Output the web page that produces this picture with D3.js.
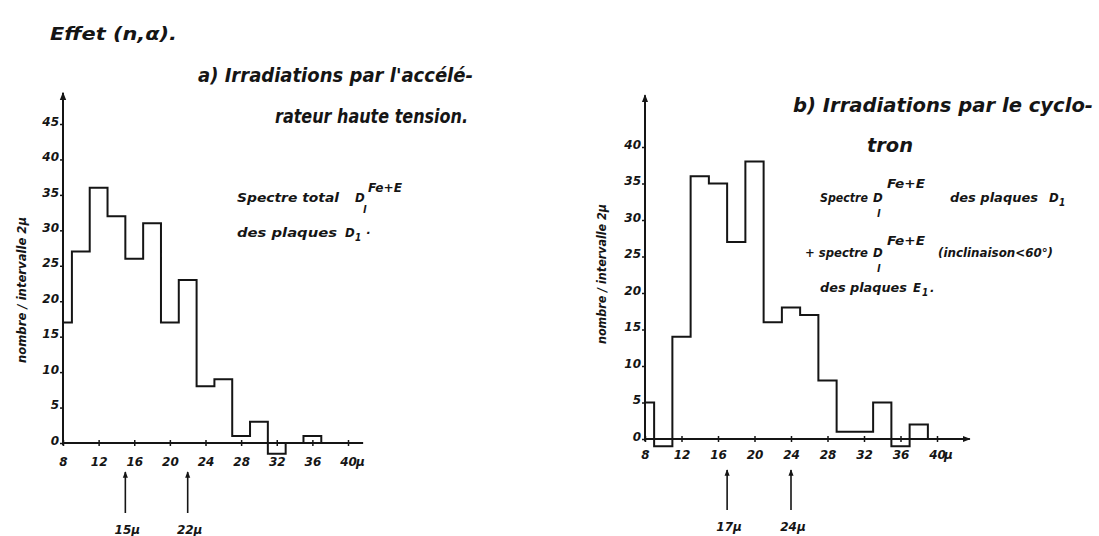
<!DOCTYPE html>
<html>
<head>
<meta charset="utf-8">
<script src="https://cdn.jsdelivr.net/npm/d3@7"></script>
<style>
  body { margin: 0; background: #fff; }
  text { font-family: "Liberation Sans Narrow", "DejaVu Sans Condensed", "DejaVu Sans", sans-serif; font-style: italic; font-weight: bold; fill: #151515; }
</style>
</head>
<body>
<div id="plot"></div>
<script>
// a) accelerateur haute tension : bin edges (micron) and counts per 2 micron
var leftEdges  = [8, 9, 11, 13, 15, 17, 19, 21, 23, 25, 27, 29, 31, 33, 35, 37];
var leftCounts = [17, 27, 36, 32, 26, 31, 17, 23, 8, 9, 1, 3, -1.5, 0, 1];
var leftYTicks = [0, 5, 10, 15, 20, 25, 30, 35, 40, 45];
var leftMarks  = [15, 22];

// b) cyclotron
var rightEdges  = [8, 9, 11, 13, 15, 17, 19, 21, 23, 25, 27, 29, 31, 33, 35, 37, 39];
var rightCounts = [5, -1, 14, 36, 35, 27, 38, 16, 18, 17, 8, 1, 1, 5, -1, 2];
var rightYTicks = [0, 5, 10, 15, 20, 25, 30, 35, 40];
var rightMarks  = [17, 24];

var xTicks = [8, 12, 16, 20, 24, 28, 32, 36, 40];

var W = 1099, H = 536;
var ink = "#151515";
var tickFont = "'DejaVu Sans', sans-serif";

var svg = d3.select("div#plot").append("svg")
    .attr("width", W)
    .attr("height", H);

var defs = svg.append("defs");
defs.append("marker")
    .attr("id", "head")
    .attr("viewBox", "0 0 10 10")
    .attr("refX", 9).attr("refY", 5)
    .attr("markerWidth", 4).attr("markerHeight", 4)
    .attr("markerUnits", "strokeWidth")
    .attr("orient", "auto")
  .append("path")
    .attr("d", "M0,1 L10,5 L0,9 Z")
    .attr("fill", ink);

// step outline of the histogram
function stepPath(x, y, edges, counts) {
  var p = d3.path();
  p.moveTo(x(edges[0]), y(0));
  counts.forEach(function(c, i) {
    p.lineTo(x(edges[i]), y(c));
    p.lineTo(x(edges[i + 1]), y(c));
  });
  p.lineTo(x(edges[edges.length - 1]), y(0));
  return p.toString();
}

function drawPanel(cfg) {
  var x = d3.scaleLinear().domain([8, 40]).range(cfg.xRange);
  var y = d3.scaleLinear().domain([0, cfg.yMax]).range(cfg.yRange);
  var g = svg.append("g");

  // y axis
  var ya = g.append("g")
      .attr("transform", "translate(" + x(8) + ",0)")
      .call(d3.axisLeft(y).tickValues(cfg.yTicks).tickSize(3).tickPadding(1));
  ya.select(".domain").remove();
  ya.selectAll("line").attr("stroke", ink).attr("stroke-width", 1.5);
  ya.selectAll("text").attr("font-size", 12).attr("dy", "0.1em")
      .style("font-family", tickFont);

  g.append("line")
      .attr("x1", x(8)).attr("x2", x(8))
      .attr("y1", y(cfg.yMin)).attr("y2", y(cfg.yTop))
      .attr("stroke", ink).attr("stroke-width", 2)
      .attr("marker-end", "url(#head)");

  // x axis
  var xa = g.append("g")
      .attr("transform", "translate(0," + y(0) + ")")
      .call(d3.axisBottom(x).tickValues(xTicks).tickSize(3).tickPadding(cfg.xPad));
  xa.select(".domain").remove();
  xa.selectAll("line").attr("stroke", ink).attr("stroke-width", 1.5).attr("y1", -3);
  xa.selectAll("text").attr("font-size", 12)
      .style("font-family", tickFont);
  xa.append("text")
      .attr("x", x(40) + cfg.muDx).attr("y", 3 + cfg.xPad)
      .attr("dy", "0.71em")
      .attr("font-size", 12)
      .attr("text-anchor", "start")
      .style("font-family", tickFont)
      .text("μ");

  g.append("line")
      .attr("x1", x(8)).attr("x2", x(cfg.xEnd))
      .attr("y1", y(0)).attr("y2", y(0))
      .attr("stroke", ink).attr("stroke-width", 2)
      .attr("marker-end", cfg.xArrow ? "url(#head)" : null);

  // histogram
  g.append("path")
      .attr("d", stepPath(x, y, cfg.edges, cfg.counts))
      .attr("fill", "none")
      .attr("stroke", ink)
      .attr("stroke-width", 2);

  // y label
  g.append("text")
      .attr("transform", "translate(" + cfg.yLabelX + "," + cfg.yLabelY + ") rotate(-90)")
      .attr("text-anchor", "middle")
      .attr("font-size", 13)
      .attr("textLength", cfg.yLabelLen)
      .attr("lengthAdjust", "spacingAndGlyphs")
      .text("nombre / intervalle 2μ");

  // arrows marking the mean ranges
  var marks = g.selectAll(".mark").data(cfg.marks).enter().append("g").attr("class", "mark");
  marks.append("line")
      .attr("x1", function(d) { return x(d); })
      .attr("x2", function(d) { return x(d); })
      .attr("y1", cfg.markY[1]).attr("y2", cfg.markY[0])
      .attr("stroke", ink).attr("stroke-width", 1.6)
      .attr("marker-end", "url(#head)");
  marks.append("text")
      .attr("x", function(d) { return x(d) + 2; })
      .attr("y", cfg.markLabelY)
      .attr("text-anchor", "middle")
      .attr("font-size", 12)
      .style("font-family", tickFont)
      .text(function(d) { return d + "μ"; });
}

drawPanel({
  xRange: [63, 348], yRange: [443, 124], yMax: 45, yMin: -0.3, yTop: 49.4,
  yTicks: leftYTicks, xEnd: 41.7, xArrow: false, xPad: 11, muDx: 8,
  edges: leftEdges, counts: leftCounts,
  yLabelX: 26, yLabelY: 290, yLabelLen: 146,
  marks: leftMarks, markY: [472, 513], markLabelY: 534
});

drawPanel({
  xRange: [645, 937], yRange: [439, 147], yMax: 40, yMin: -0.3, yTop: 47.1,
  yTicks: rightYTicks, xEnd: 43.6, xArrow: true, xPad: 8, muDx: 7,
  edges: rightEdges, counts: rightCounts,
  yLabelX: 606, yLabelY: 274, yLabelLen: 140,
  marks: rightMarks, markY: [470, 510], markLabelY: 531
});

// titles and notes
function label(x, y, size, len, str) {
  var t = svg.append("text")
      .attr("x", x).attr("y", y)
      .attr("font-size", size)
      .text(str);
  if (len) t.attr("textLength", len).attr("lengthAdjust", "spacingAndGlyphs");
  return t;
}

label(50, 40, 18, 127, "Effet (n,α).");
label(198, 82, 20, 275, "a) Irradiations par l'accélé-");
label(275, 123, 20, 193, "rateur haute tension.");
label(793, 112, 20, 300, "b) Irradiations par le cyclo-");
label(867, 152, 20, 46, "tron");

// left note
label(237, 202, 12, 102, "Spectre total");
label(355, 202, 13, null, "D");
label(368, 192, 12, 34, "Fe+E");
label(363, 213, 11, null, "l");
label(237, 237, 12, 100, "des plaques");
label(345, 237, 13, null, "D");
label(355, 241, 10, null, "1");
label(366, 237, 13, null, "·");

// right note
label(820, 202, 12, 48, "Spectre");
label(873, 202, 13, null, "D");
label(887, 188, 12, 38, "Fe+E");
label(877, 217, 11, null, "l");
label(950, 202, 12, 88, "des plaques");
label(1049, 202, 13, null, "D");
label(1059, 206, 10, null, "1");

label(805, 257, 12, 63, "+ spectre");
label(873, 257, 13, null, "D");
label(887, 245, 12, 38, "Fe+E");
label(877, 272, 11, null, "l");
label(938, 257, 12, 115, "(inclinaison<60°)");

label(820, 292, 12, 87, "des plaques");
label(913, 292, 13, null, "E");
label(922, 296, 10, null, "1");
label(930, 292, 13, null, ".");
</script>
</body>
</html>
